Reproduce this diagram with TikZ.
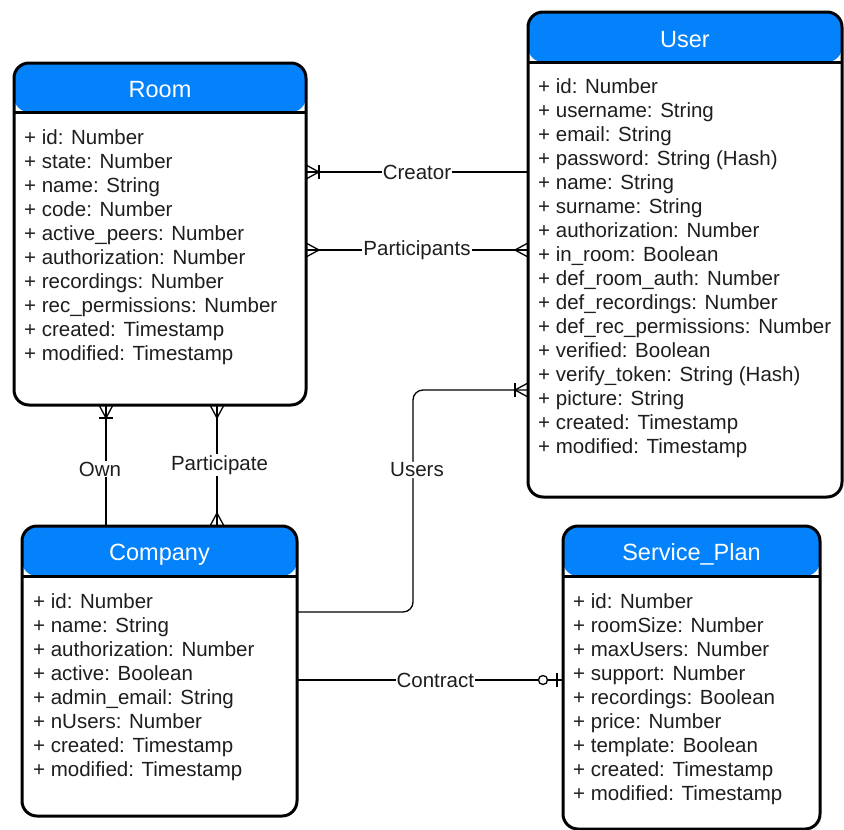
\documentclass[tikz,border=0pt]{standalone}
\usepackage{fontspec}
\setmainfont{Liberation Sans}
\definecolor{hdr}{RGB}{4,130,252}
\definecolor{ink}{RGB}{30,30,30}

\tikzset{
  entity/.style={draw=black, line width=3pt, rounded corners=15pt, fill=white,
    inner sep=0pt, outer sep=0pt,
    path picture={\fill[hdr] (path picture bounding box.north west) rectangle
      ([yshift=-#1]path picture bounding box.north east);}},
  title/.style={text=white, font=\fontsize{23.5}{28}\selectfont, inner sep=0pt},
  attr/.style={text=ink, font=\fontsize{20.5}{24}\selectfont, anchor=base west, inner sep=0pt},
  conn/.style={draw=black, line width=1.3pt},
  lbl/.style={fill=white, text=ink, font=\fontsize{20.5}{24}\selectfont, inner sep=1pt},
  % crow's foot (many) at an entity edge, pointing along +x away from it
  pics/crowmany/.style={code={
    \draw[conn] (0,-7) -- (13,0) -- (0,7);
  }},
  % crow's foot with bar (one or many)
  pics/crowone/.style={code={
    \draw[conn] (0,-7) -- (13,0) -- (0,7);
    \draw[conn] (13,-7) -- (13,7);
  }},
  % bar and open circle (zero or one)
  pics/zeroone/.style={code={
    \draw[conn] (6,-7) -- (6,7);
    \draw[conn, fill=white] (20,0) circle[radius=4.5];
  }},
}

\begin{document}
\begin{tikzpicture}[x=1pt,y=-1pt]
\useasboundingbox[fill=white] (0,0) rectangle (844,830);

% ---------------- entities ----------------
\node[entity=49pt, minimum width=292pt, minimum height=342pt] (room) at (160,234) {};
\draw[line width=3pt] ([yshift=-49pt]room.north west) -- ([yshift=-49pt]room.north east);
\node[title] (room-t) at ([yshift=-27pt]room.north) {Room};
\foreach \t [count=\i] in {+ id: Number, + state: Number, + name: String, + code: Number,
    + active\_peers: Number, + authorization: Number, + recordings: Number,
    + rec\_permissions: Number, + created: Timestamp, + modified: Timestamp}
  \node[attr] (room-\i) at ([xshift=10pt, yshift={-81pt-24pt*(\i-1)}]room.north west) {\t};

\node[entity=50pt, minimum width=314pt, minimum height=485pt] (user) at (685,254.5) {};
\draw[line width=3pt] ([yshift=-50pt]user.north west) -- ([yshift=-50pt]user.north east);
\node[title] (user-t) at ([yshift=-27.5pt]user.north) {User};
\foreach \t [count=\i] in {+ id: Number, + username: String, + email: String,
    + password: String (Hash), + name: String, + surname: String,
    + authorization: Number, + in\_room: Boolean, + def\_room\_auth: Number,
    + def\_recordings: Number, + def\_rec\_permissions: Number, + verified: Boolean,
    + verify\_token: String (Hash), + picture: String, + created: Timestamp,
    + modified: Timestamp}
  \node[attr] (user-\i) at ([xshift=10pt, yshift={-81pt-24pt*(\i-1)}]user.north west) {\t};

\node[entity=50pt, minimum width=275pt, minimum height=290pt] (company) at (159.5,671) {};
\draw[line width=3pt] ([yshift=-50pt]company.north west) -- ([yshift=-50pt]company.north east);
\node[title] (company-t) at ([yshift=-28.5pt]company.north) {Company};
\foreach \t [count=\i] in {+ id: Number, + name: String, + authorization: Number,
    + active: Boolean, + admin\_email: String, + nUsers: Number,
    + created: Timestamp, + modified: Timestamp}
  \node[attr] (company-\i) at ([xshift=11pt, yshift={-82pt-24pt*(\i-1)}]company.north west) {\t};

\node[entity=50pt, minimum width=257pt, minimum height=303pt] (plan) at (691.5,677.5) {};
\draw[line width=3pt] ([yshift=-50pt]plan.north west) -- ([yshift=-50pt]plan.north east);
\node[title] (plan-t) at ([yshift=-28pt]plan.north) {Service\_Plan};
\foreach \t [count=\i] in {+ id: Number, + roomSize: Number, + maxUsers: Number,
    + support: Number, + recordings: Boolean, + price: Number, + template: Boolean,
    + created: Timestamp, + modified: Timestamp}
  \node[attr] (plan-\i) at ([xshift=10pt, yshift={-82pt-24pt*(\i-1)}]plan.north west) {\t};

% ---------------- relationships ----------------
\coordinate (yCreator) at (0,172);
\coordinate (yPart) at (0,250);
\coordinate (yUsers) at (0,390);
\coordinate (yComp) at (0,612);
\coordinate (yContract) at (0,680);
\coordinate (xOwn) at (106,0);
\coordinate (xParticipate) at (217,0);
\coordinate (xUsers) at (413,0);

% Creator: User -> Room (one or many at Room)
\draw[conn] (user.west |- yCreator) -- node[lbl] (creator) {Creator} (room.east |- yCreator);
\pic at (room.east |- yCreator) {crowone};

% Participants: many to many
\draw[conn] (room.east |- yPart) -- node[lbl] (participants) {Participants} (user.west |- yPart);
\pic at (room.east |- yPart) {crowmany};
\pic[rotate=180] at (user.west |- yPart) {crowmany};

% Own: Company -> Room
\draw[conn] (company.north -| xOwn) -- (room.south -| xOwn);
\node[lbl] (own) at (100,469) {Own};
\pic[rotate=-90] at (room.south -| xOwn) {crowone};

% Participate: many to many
\draw[conn] (company.north -| xParticipate) -- (room.south -| xParticipate);
\node[lbl] (participate) at (219.5,465) {Participate};
\pic[rotate=-90] at (room.south -| xParticipate) {crowmany};
\pic[rotate=90] at (company.north -| xParticipate) {crowmany};

% Users: Company -> User
\draw[conn, rounded corners=10pt] (company.east |- yComp) -- (xUsers |- yComp)
  -- node[lbl, pos=0.64, xshift=4pt] (users) {Users} (xUsers |- yUsers) -- (user.west |- yUsers);
\pic[rotate=180] at (user.west |- yUsers) {crowone};

% Contract: Company -> Service_Plan (zero or one)
\draw[conn] (company.east |- yContract) -- node[lbl, pos=0.52] (contract) {Contract} (plan.west |- yContract);
\pic[rotate=180] at (plan.west |- yContract) {zeroone};
\end{tikzpicture}
\end{document}
